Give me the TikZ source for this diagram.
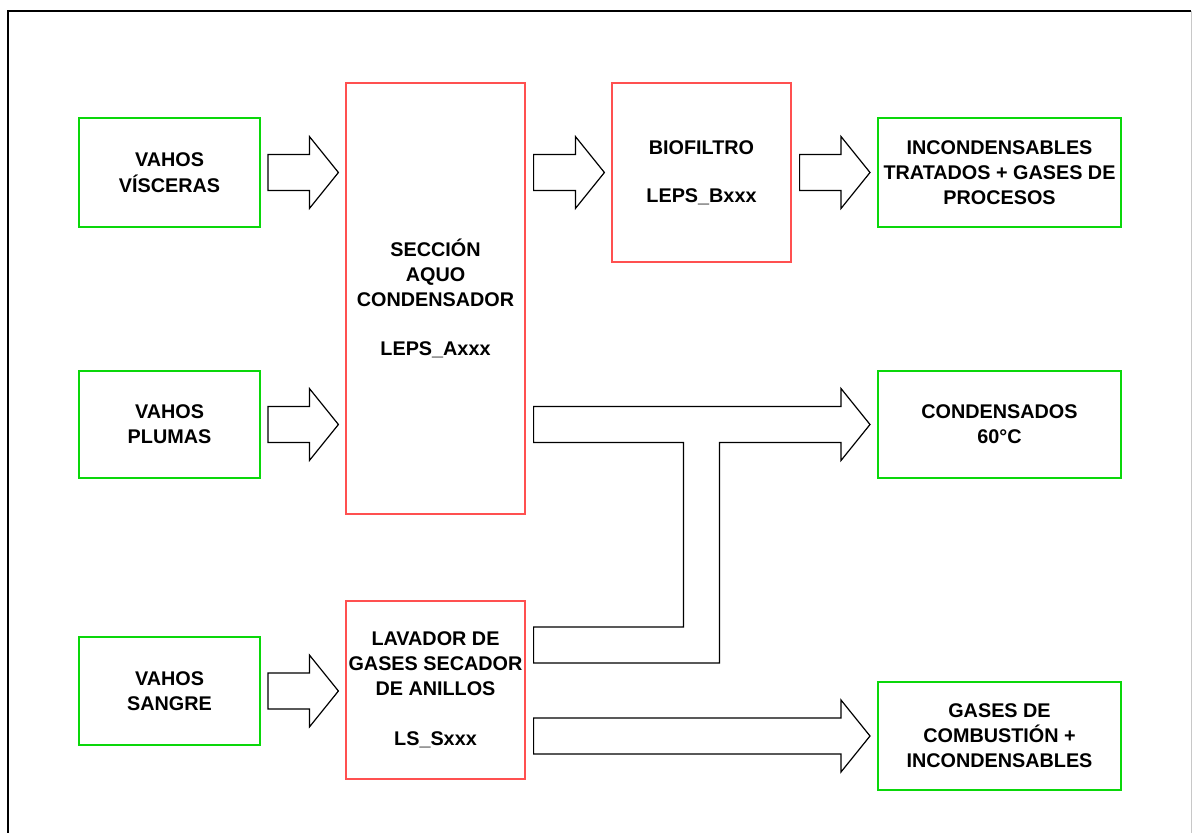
\documentclass[tikz,border=0pt]{standalone}
\usepackage{fontspec}
\setmainfont{Liberation Sans}
\usetikzlibrary{calc}
\definecolor{boxgreen}{RGB}{10,215,10}
\definecolor{boxred}{RGB}{255,80,80}
\definecolor{framegray}{RGB}{200,200,200}
\newcommand{\barrow}[2]{%
  \draw[blk] ($(#1)+(0,-18)$) -- ($(#2)+(-29,-18)$) -- ($(#2)+(-29,-36)$) -- (#2)
    -- ($(#2)+(-29,36)$) -- ($(#2)+(-29,18)$) -- ($(#1)+(0,18)$) -- cycle;}
\tikzset{
  lbl/.style={inner sep=0pt, align=center, font={\fontsize{19.8pt}{25pt}\selectfont\bfseries}},
  greenbox/.style={lbl, draw=boxgreen, line width=2pt, minimum width=181pt, minimum height=108pt},
  widegreen/.style={greenbox, minimum width=243pt},
  redbox/.style={lbl, draw=boxred, line width=1.2pt, minimum width=179pt, minimum height=179pt},
  blk/.style={draw=black, line width=1.2pt, fill=white, line join=miter},
  frameline/.style={draw=black, line width=1.6pt}
}
\begin{document}
\begin{tikzpicture}[x=1pt,y=-1pt]
\useasboundingbox (0,0) rectangle (1192,833);
% frame
\coordinate (fbl) at (8,833);
\coordinate (ftl) at (8,11);
\coordinate (ftr) at (1191,11);
\coordinate (fbr) at (1191,833);
\draw[frameline] (fbl) -- (ftl) -- (ftr);
\draw[draw=framegray, line width=1pt] (ftr) -- (fbr);

% left sources
\node[greenbox, minimum height=109pt] (vv) at (169.5,172.5) {VAHOS\\[1pt]VÍSCERAS};
\node[greenbox, minimum height=107pt] (vp) at (169.5,424.5) {VAHOS\\PLUMAS};
\node[greenbox] (vs) at (169.5,691) {VAHOS\\SANGRE};

% process units
\node[redbox, minimum height=431pt] (sec) at (435.5,298.5)
  {SECCIÓN\\AQUO\\CONDENSADOR\\[24pt]LEPS\_Axxx};
\node[redbox] (bio) at (701.5,172.5) {BIOFILTRO\\[23pt]LEPS\_Bxxx};
\node[redbox, minimum height=178pt] (lav) at (435.5,690)
  {LAVADOR DE\\GASES SECADOR\\DE ANILLOS\\[25pt]LS\_Sxxx};

% outputs
\node[widegreen, minimum height=109pt] (inc) at (999.5,172.5)
  {INCONDENSABLES\\TRATADOS + GASES DE\\PROCESOS};
\node[widegreen, minimum height=107pt] (con) at (999.5,424.5) {CONDENSADOS\\60°C};
\node[widegreen] (gas) at (999.5,736) {GASES DE\\COMBUSTIÓN +\\INCONDENSABLES};

% block arrows
\coordinate (a1s) at ($(vv.east)+(7,0)$);
\coordinate (a1e) at ($(sec.west |- vv.east)+(-7,0)$);
\coordinate (a2s) at ($(vp.east)+(7,0)$);
\coordinate (a2e) at ($(sec.west |- vp.east)+(-7,0)$);
\coordinate (a3s) at ($(vs.east)+(7,0)$);
\coordinate (a3e) at ($(lav.west |- vs.east)+(-7,0)$);
\coordinate (a4s) at ($(sec.east |- bio.west)+(8,0)$);
\coordinate (a4e) at ($(bio.west)+(-7,0)$);
\coordinate (a5s) at ($(bio.east)+(8,0)$);
\coordinate (a5e) at ($(inc.west)+(-7,0)$);
\coordinate (a6s) at ($(lav.east |- gas.west)+(8,0)$);
\coordinate (a6e) at ($(gas.west)+(-7,0)$);
\barrow{a1s}{a1e}
\barrow{a2s}{a2e}
\barrow{a3s}{a3e}
\barrow{a4s}{a4e}
\barrow{a5s}{a5e}
\barrow{a6s}{a6e}

% T-shaped merged arrow to condensados
\coordinate (tS) at ($(sec.east |- con.west)+(8,0)$);
\coordinate (tE) at ($(con.west)+(-7,0)$);
\coordinate (tm) at (bio.center |- con.west);
\coordinate (bb) at ($(lav.east)+(8,-45)$);
\coordinate (bm) at (tm |- bb);
\draw[blk] ($(tS)+(0,-18)$) -- ($(tE)+(-29,-18)$) -- ($(tE)+(-29,-36)$) -- (tE)
  -- ($(tE)+(-29,36)$) -- ($(tE)+(-29,18)$) -- ($(tm)+(18,18)$) -- ($(bm)+(18,18)$)
  -- ($(bb)+(0,18)$) -- ($(bb)+(0,-18)$) -- ($(bm)+(-18,-18)$) -- ($(tm)+(-18,18)$)
  -- ($(tS)+(0,18)$) -- cycle;
\end{tikzpicture}
\end{document}
